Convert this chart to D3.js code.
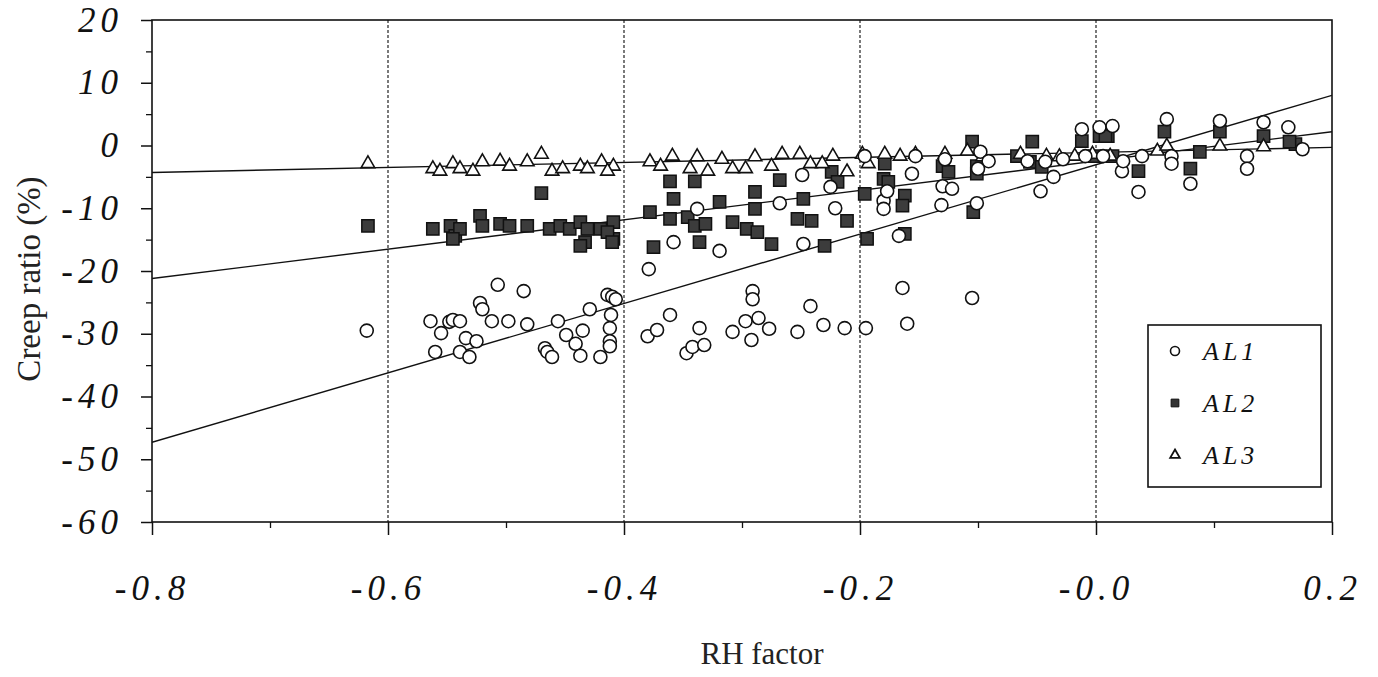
<!DOCTYPE html>
<html>
<head>
<meta charset="utf-8">
<script src="https://cdn.jsdelivr.net/npm/d3@7"></script>
<style>
  html, body { margin: 0; padding: 0; background: #fff; }
  svg { display: block; }
</style>
</head>
<body>
<div id="chart"></div>
<script>
// Creep ratio vs RH factor, three series (AL1, AL2, AL3) with linear fits.

const X_TICKS = [-0.8, -0.6, -0.4, -0.2, 0.0, 0.2];
const X_TICK_LABELS = ["-0.8", "-0.6", "-0.4", "-0.2", "-0.0", "0.2"];
const X_MINOR = [-0.7, -0.5, -0.3, -0.1, 0.1];
const X_GRID = [-0.6, -0.4, -0.2, 0.0];
const Y_TICKS = [20, 10, 0, -10, -20, -30, -40, -50, -60];
const Y_MINOR = [15, 5, -5, -15, -25, -35, -45, -55];

// fitted lines: value at x = -0.8 and at x = 0.2
const FITS = [
  { key: "AL1", y0: -47.3, y1: 8.0 },
  { key: "AL2", y0: -21.2, y1: 2.2 },
  { key: "AL3", y0: -4.3,  y1: -0.3 },
];

const AL1 = [
  [-0.618,-29.5],[-0.564,-28.0],[-0.560,-32.9],[-0.555,-29.9],[-0.548,-28.1],[-0.545,-27.8],
  [-0.539,-28.0],[-0.539,-32.9],[-0.534,-30.7],[-0.531,-33.7],[-0.525,-31.2],[-0.522,-25.1],
  [-0.520,-26.1],[-0.512,-28.0],[-0.507,-22.2],[-0.498,-28.0],[-0.485,-23.2],[-0.482,-28.5],
  [-0.467,-32.3],[-0.465,-32.9],[-0.461,-33.7],[-0.456,-28.0],[-0.449,-30.2],[-0.441,-31.6],
  [-0.437,-33.5],[-0.435,-29.5],[-0.429,-26.1],[-0.420,-33.7],[-0.414,-23.8],[-0.410,-24.1],
  [-0.411,-27.0],[-0.412,-29.1],[-0.412,-31.2],[-0.412,-32.0],[-0.407,-24.5],
  [-0.379,-19.7],[-0.361,-27.0],[-0.380,-30.4],[-0.372,-29.4],[-0.336,-29.1],[-0.347,-33.1],
  [-0.342,-32.1],[-0.332,-31.8],[-0.319,-16.8],[-0.358,-15.4],[-0.308,-29.7],[-0.297,-28.0],
  [-0.286,-27.5],[-0.292,-31.0],[-0.277,-29.2],[-0.291,-23.2],[-0.291,-24.5],[-0.253,-29.7],
  [-0.242,-25.6],[-0.231,-28.6],[-0.213,-29.1],[-0.195,-29.1],[-0.248,-15.7],[-0.164,-22.7],
  [-0.160,-28.4],[-0.105,-24.3],[-0.167,-14.4],
  [-0.249,-4.7],[-0.268,-9.2],[-0.338,-10.1],[-0.221,-10.0],[-0.225,-6.6],[-0.196,-1.7],
  [-0.131,-9.5],[-0.101,-9.2],[-0.047,-7.3],[-0.180,-8.8],[-0.180,-10.1],[-0.177,-7.3],
  [-0.156,-4.5],[-0.153,-1.7],[-0.130,-6.5],[-0.122,-6.9],[-0.128,-2.2],[-0.098,-1.0],
  [-0.091,-2.5],[-0.100,-3.7],[-0.058,-2.5],[-0.036,-5.0],[-0.043,-2.6],[-0.028,-2.2],
  [-0.012,2.6],[0.003,2.9],[0.014,3.1],[-0.009,-1.7],[0.006,-1.7],[0.022,-4.1],[0.023,-2.5],
  [0.036,-7.4],[0.039,-1.7],[0.060,4.2],[0.064,-1.7],[0.064,-2.9],[0.080,-6.1],[0.105,3.9],
  [0.128,-1.7],[0.128,-3.7],[0.142,3.7],[0.163,2.9],[0.175,-0.6],
];

const AL2 = [
  [-0.617,-12.8],[-0.470,-7.6],[-0.562,-13.3],[-0.547,-12.8],[-0.543,-14.4],[-0.539,-13.3],
  [-0.522,-11.2],[-0.520,-12.8],[-0.505,-12.5],[-0.497,-12.8],[-0.482,-12.8],[-0.463,-13.3],
  [-0.454,-12.8],[-0.446,-13.3],[-0.437,-12.2],[-0.433,-15.4],[-0.431,-13.3],[-0.420,-13.3],
  [-0.409,-12.2],[-0.409,-14.9],[-0.414,-13.8],[-0.437,-16.0],[-0.410,-15.4],[-0.545,-14.9],
  [-0.361,-5.7],[-0.340,-5.7],[-0.358,-8.5],[-0.378,-10.6],[-0.361,-11.7],[-0.346,-11.4],
  [-0.340,-12.8],[-0.331,-12.5],[-0.319,-9.0],[-0.308,-12.2],[-0.296,-13.3],[-0.289,-7.4],
  [-0.289,-10.1],[-0.287,-13.8],[-0.275,-15.7],[-0.268,-5.5],[-0.248,-8.5],[-0.253,-11.7],
  [-0.241,-12.0],[-0.211,-12.0],[-0.375,-16.2],[-0.336,-15.4],[-0.230,-16.0],[-0.224,-4.2],
  [-0.219,-5.8],[-0.196,-7.7],[-0.194,-14.9],[-0.179,-2.9],[-0.180,-5.3],[-0.176,-5.8],
  [-0.162,-8.0],[-0.164,-9.6],[-0.162,-14.1],[-0.130,-3.3],[-0.125,-4.2],[-0.105,0.6],
  [-0.101,-3.3],[-0.101,-4.5],[-0.104,-10.6],[-0.067,-1.7],[-0.054,0.6],[-0.056,-2.6],
  [-0.046,-3.4],[0.003,1.5],[0.010,1.5],[-0.001,-1.7],[0.014,-1.7],
  [-0.012,0.7],[0.008,1.5],[0.036,-4.1],[0.058,2.2],[0.080,-3.7],[0.088,-1.0],[0.105,2.2],
  [0.142,1.5],[0.169,0.2],[0.164,0.6],
];

const AL3 = [
  [-0.617,-2.9],[-0.562,-3.7],[-0.556,-4.1],[-0.545,-2.9],[-0.539,-3.7],[-0.528,-4.1],
  [-0.520,-2.6],[-0.505,-2.5],[-0.497,-3.3],[-0.482,-2.6],[-0.470,-1.4],[-0.461,-4.1],
  [-0.452,-3.7],[-0.437,-3.3],[-0.431,-3.7],[-0.419,-2.6],[-0.409,-3.3],[-0.414,-4.1],
  [-0.378,-2.6],[-0.369,-3.3],[-0.359,-1.7],[-0.338,-1.8],[-0.344,-3.7],[-0.329,-4.1],
  [-0.317,-2.2],[-0.308,-3.7],[-0.297,-3.7],[-0.289,-1.8],[-0.275,-3.3],[-0.266,-1.4],
  [-0.251,-1.4],[-0.242,-2.9],[-0.232,-2.9],[-0.223,-1.7],[-0.211,-4.2],[-0.198,-1.4],
  [-0.193,-2.9],[-0.179,-1.4],[-0.166,-1.7],[-0.153,-1.4],[-0.128,-1.4],[-0.109,-0.9],
  [-0.096,-1.8],[-0.064,-1.4],[-0.042,-1.7],[-0.031,-1.8],[-0.018,-1.7],[-0.003,-1.4],
  [0.012,-1.7],[0.052,-0.9],[0.060,-0.1],[0.105,-0.1],[0.142,-0.2],
];

const LEGEND = ["AL1", "AL2", "AL3"];

const W = 1378, H = 677;
const margin = { top: 20, right: 46, bottom: 155, left: 152 };
const innerW = W - margin.left - margin.right;
const innerH = H - margin.top - margin.bottom;

const x = d3.scaleLinear().domain([-0.8, 0.2]).range([0, innerW]);
const y = d3.scaleLinear().domain([-60, 20]).range([innerH, 0]);

const svg = d3.select("#chart").append("svg").attr("width", W).attr("height", H);
const g = svg.append("g").attr("transform", `translate(${margin.left},${margin.top})`);

const serif = "'Liberation Serif', 'DejaVu Serif', serif";

svg.append("defs").append("clipPath").attr("id", "clip")
  .append("rect").attr("width", innerW).attr("height", innerH);

// vertical grid
g.selectAll(".grid").data(X_GRID).join("line")
  .attr("x1", d => x(d)).attr("x2", d => x(d))
  .attr("y1", 0).attr("y2", innerH)
  .attr("stroke", "#222").attr("stroke-width", 1.2)
  .attr("stroke-dasharray", "3,2");

// frame
g.append("rect").attr("width", innerW).attr("height", innerH)
  .attr("fill", "none").attr("stroke", "#111").attr("stroke-width", 1.6);

// y axis
g.append("g")
  .call(d3.axisLeft(y).tickValues(Y_TICKS).tickSize(11).tickPadding(18).tickFormat(d => String(d)))
  .call(ax => ax.select(".domain").remove())
  .call(ax => ax.selectAll(".tick line").attr("stroke", "#111").attr("stroke-width", 1.5))
  .selectAll("text")
  .style("font-family", serif).style("font-style", "italic")
  .style("font-size", "35px").style("letter-spacing", "5px").style("fill", "#111");

g.append("g")
  .call(d3.axisLeft(y).tickValues(Y_MINOR).tickSize(6).tickFormat(""))
  .call(ax => ax.select(".domain").remove())
  .call(ax => ax.selectAll(".tick line").attr("stroke", "#111").attr("stroke-width", 1.3));

// x axis
g.append("g")
  .attr("transform", `translate(0,${innerH})`)
  .call(d3.axisBottom(x).tickValues(X_TICKS).tickSize(13).tickPadding(40)
    .tickFormat((d, i) => X_TICK_LABELS[i]))
  .call(ax => ax.select(".domain").remove())
  .call(ax => ax.selectAll(".tick line").attr("stroke", "#111").attr("stroke-width", 1.5))
  .selectAll("text")
  .style("font-family", serif).style("font-style", "italic")
  .style("font-size", "35px").style("letter-spacing", "5px").style("fill", "#111");

g.append("g")
  .attr("transform", `translate(0,${innerH})`)
  .call(d3.axisBottom(x).tickValues(X_MINOR).tickSize(6).tickFormat(""))
  .call(ax => ax.select(".domain").remove())
  .call(ax => ax.selectAll(".tick line").attr("stroke", "#111").attr("stroke-width", 1.3));

// axis titles
svg.append("text")
  .attr("transform", `translate(40,${margin.top + innerH / 2 + 8}) rotate(-90)`)
  .attr("text-anchor", "middle")
  .style("font-family", serif).style("font-size", "33px").style("fill", "#222")
  .text("Creep ratio (%)");

svg.append("text")
  .attr("x", 762).attr("y", 664).attr("text-anchor", "middle")
  .style("font-family", serif).style("font-size", "31px").style("fill", "#222")
  .text("RH factor");

// fitted lines
const plot = g.append("g").attr("clip-path", "url(#clip)");
FITS.forEach(f => {
  plot.append("line")
    .attr("x1", x(-0.8)).attr("y1", y(f.y0))
    .attr("x2", x(0.2)).attr("y2", y(f.y1))
    .attr("stroke", "#111").attr("stroke-width", 1.4);
});

// markers
const sq = d3.symbol().type(d3.symbolSquare).size(150);
const tri = d3.symbol().type(d3.symbolTriangle).size(80);

plot.selectAll(".al2").data(AL2).join("path")
  .attr("transform", d => `translate(${x(d[0])},${y(d[1])})`)
  .attr("d", sq)
  .attr("fill", "#3c3c3c").attr("stroke", "#111").attr("stroke-width", 1.5);

plot.selectAll(".al3").data(AL3).join("path")
  .attr("transform", d => `translate(${x(d[0])},${y(d[1])})`)
  .attr("d", tri)
  .attr("fill", "#fff").attr("stroke", "#111").attr("stroke-width", 1.6);

plot.selectAll(".al1").data(AL1).join("circle")
  .attr("cx", d => x(d[0])).attr("cy", d => y(d[1]))
  .attr("r", 6.5)
  .attr("fill", "#fff").attr("stroke", "#111").attr("stroke-width", 1.6);

// legend
const lg = svg.append("g").attr("transform", "translate(1148,325)");
lg.append("rect").attr("width", 173).attr("height", 162)
  .attr("fill", "#fff").attr("stroke", "#111").attr("stroke-width", 1.6);

LEGEND.forEach((name, i) => {
  const cy = 26 + i * 52;
  const row = lg.append("g").attr("transform", `translate(27,${cy})`);
  if (i === 0) {
    row.append("circle").attr("r", 4.5).attr("fill", "#fff")
      .attr("stroke", "#111").attr("stroke-width", 1.6);
  } else if (i === 1) {
    row.append("path").attr("d", d3.symbol().type(d3.symbolSquare).size(60))
      .attr("fill", "#333").attr("stroke", "#111").attr("stroke-width", 1);
  } else {
    row.append("path").attr("d", d3.symbol().type(d3.symbolTriangle).size(40))
      .attr("fill", "#fff").attr("stroke", "#111").attr("stroke-width", 1.8);
  }
  row.append("text").attr("x", 28).attr("y", 9)
    .style("font-family", serif).style("font-style", "italic")
    .style("font-size", "26px").style("letter-spacing", "4px").style("fill", "#111")
    .text(name);
});
</script>
</body>
</html>
